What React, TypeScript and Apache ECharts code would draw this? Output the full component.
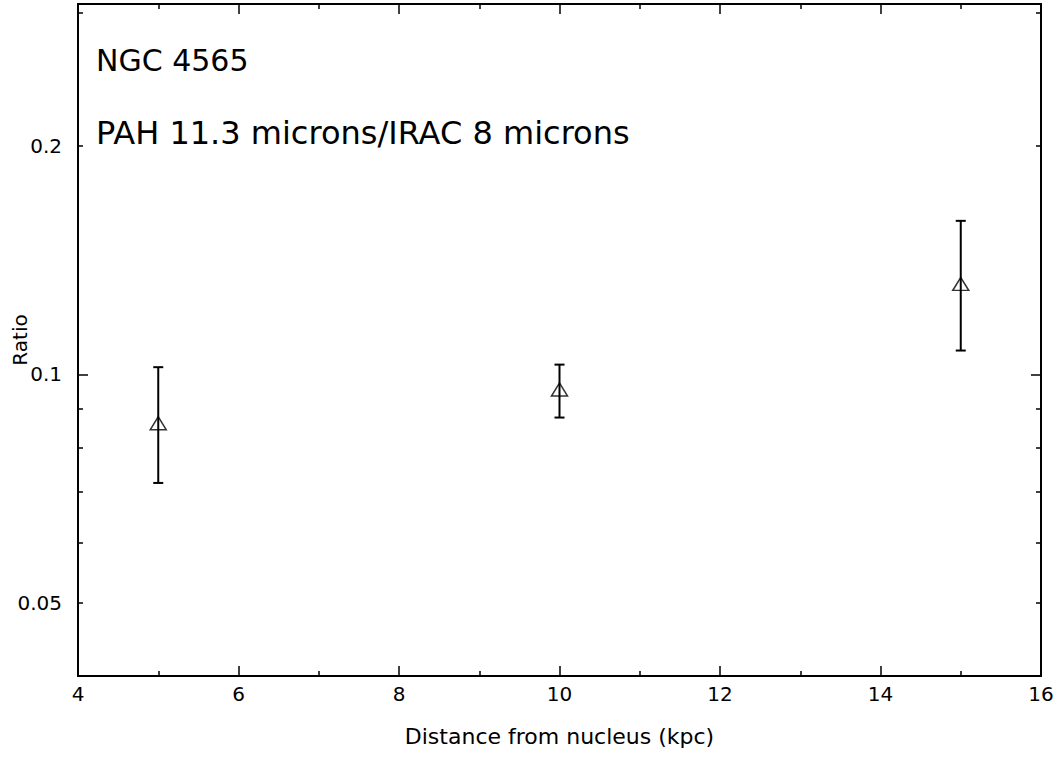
import React, { useEffect, useRef } from "react";
import * as echarts from "echarts";

const distances = [5, 10, 15];
const ratios = [0.0862, 0.0955, 0.1316];
const lowerErr = [0.0719, 0.0877, 0.1075];
const upperErr = [0.1022, 0.103, 0.1594];

const yMin = 0.04;
const yMax = 0.308;
const yLabelValues = [0.05, 0.1, 0.2];
const yMajorTicks = [0.1];
const yMinorTicks = [0.05, 0.06, 0.07, 0.08, 0.09, 0.2, 0.3];

const titleLine1 = "NGC 4565";
const titleLine2 = "PAH 11.3 microns/IRAC 8 microns";
const xName = "Distance from nucleus (kpc)";
const yName = "Ratio";

const FONT = "DejaVu Sans";
const L = (v: number) => Math.log10(v);

export default function App() {
  const ref = useRef<HTMLDivElement>(null);
  useEffect(() => {
    if (!ref.current) return;
    const chart = echarts.init(ref.current, null, { renderer: "svg" });
    const lineStyle = { color: "#000", width: 2 };
    const tickLine = { color: "#000", width: 1.5 };
    const xBase = {
      type: "value",
      min: 4,
      max: 16,
      interval: 2,
      splitLine: { show: false },
      axisLine: { show: true, onZero: false, lineStyle },
      axisTick: { show: true, inside: true, length: 10, lineStyle: tickLine },
      minorTick: { show: true, splitNumber: 2, length: 5, lineStyle: tickLine },
      minorSplitLine: { show: false },
    };
    const yLinBase = {
      type: "value",
      min: L(yMin),
      max: L(yMax),
      splitLine: { show: false },
    };
    const fmt = (v: number) => String(Number(Math.pow(10, v).toPrecision(2)));
    chart.setOption({
      animation: false,
      backgroundColor: "#fff",
      grid: {
        left: 78,
        top: 4,
        width: 963,
        height: 672,
        containLabel: false,
        outerBoundsMode: "none",
      },
      xAxis: [
        {
          ...xBase,
          position: "bottom",
          name: xName,
          nameLocation: "middle",
          nameGap: 49,
          nameMoveOverlap: false,
          nameTextStyle: { fontFamily: FONT, fontSize: 22, color: "#000" },
          axisLabel: { show: true, fontFamily: FONT, fontSize: 20, color: "#000", margin: 8 },
        },
        {
          ...xBase,
          position: "top",
          axisLabel: { show: false },
        },
      ],
      yAxis: [
        {
          type: "log",
          min: yMin,
          max: yMax,
          logBase: 10,
          position: "left",
          axisLine: { show: false },
          axisTick: { show: false },
          axisLabel: { show: false },
          splitLine: { show: false },
          minorTick: { show: false },
        },
        {
          ...yLinBase,
          position: "left",
          name: yName,
          nameLocation: "middle",
          nameGap: 48,
          nameMoveOverlap: false,
          nameTextStyle: { fontFamily: FONT, fontSize: 20, color: "#000" },
          axisLine: { show: true, onZero: false, lineStyle },
          axisTick: { show: true, inside: true, length: 10, lineStyle: tickLine, customValues: yMajorTicks.map(L) },
          axisLabel: {
            show: true,
            fontFamily: FONT,
            fontSize: 20,
            color: "#000",
            margin: 16,
            customValues: yLabelValues.map(L),
            formatter: fmt,
          },
        },
        {
          ...yLinBase,
          position: "left",
          axisLine: { show: false },
          axisTick: { show: true, inside: true, length: 5, lineStyle: tickLine, customValues: yMinorTicks.map(L) },
          axisLabel: { show: false },
        },
        {
          ...yLinBase,
          position: "right",
          axisLine: { show: true, onZero: false, lineStyle },
          axisTick: { show: true, inside: true, length: 10, lineStyle: tickLine, customValues: yMajorTicks.map(L) },
          axisLabel: { show: false },
        },
        {
          ...yLinBase,
          position: "right",
          axisLine: { show: false },
          axisTick: { show: true, inside: true, length: 5, lineStyle: tickLine, customValues: yMinorTicks.map(L) },
          axisLabel: { show: false },
        },
      ],
      graphic: [
        {
          type: "text",
          left: 96,
          top: 45,
          style: { text: titleLine1, fontFamily: FONT, fontSize: 30, fill: "#000" },
        },
        {
          type: "text",
          left: 96,
          top: 117,
          style: { text: titleLine2, fontFamily: FONT, fontSize: 32, fill: "#000" },
        },
      ],
      series: [
        {
          type: "custom",
          xAxisIndex: 0,
          yAxisIndex: 0,
          encode: { x: 0, y: [1, 2] },
          data: distances.map((d, i) => [d, lowerErr[i], upperErr[i]]),
          renderItem: (params: any, api: any) => {
            const x = api.value(0);
            const p1 = api.coord([x, api.value(1)]);
            const p2 = api.coord([x, api.value(2)]);
            const w = 5;
            const st = { stroke: "#000", lineWidth: 2 };
            return {
              type: "group",
              children: [
                { type: "line", shape: { x1: p1[0], y1: p1[1], x2: p2[0], y2: p2[1] }, style: st },
                { type: "line", shape: { x1: p1[0] - w, y1: p1[1], x2: p1[0] + w, y2: p1[1] }, style: st },
                { type: "line", shape: { x1: p2[0] - w, y1: p2[1], x2: p2[0] + w, y2: p2[1] }, style: st },
              ],
            };
          },
          z: 2,
        },
        {
          type: "scatter",
          xAxisIndex: 0,
          yAxisIndex: 0,
          data: distances.map((d, i) => [d, ratios[i]]),
          symbol: "triangle",
          symbolSize: [16, 13],
          itemStyle: { color: "rgba(0,0,0,0)", borderColor: "#000", borderWidth: 1.5 },
          z: 3,
        },
      ],
    });
    return () => chart.dispose();
  }, []);
  return (
    <div
      ref={ref}
      style={{ position: "absolute", left: 0, top: 0, width: 1058, height: 761 }}
    />
  );
}
